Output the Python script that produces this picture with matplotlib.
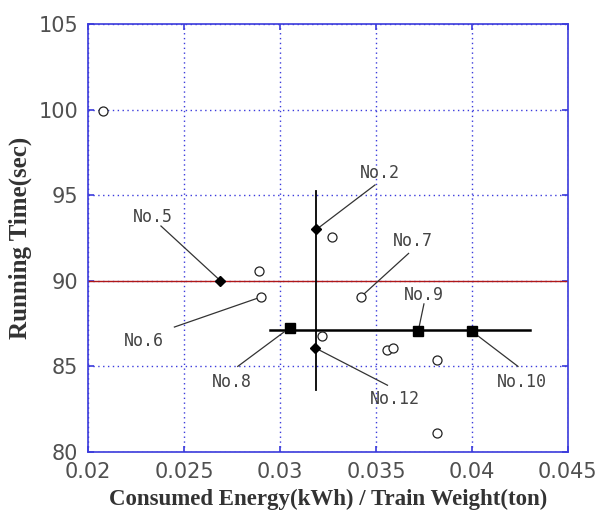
import matplotlib; matplotlib.use("Agg")
import matplotlib.pyplot as plt

# open circles (other runs)
circ_x = [0.0208, 0.0327, 0.0289, 0.0290, 0.0342, 0.0322, 0.0356, 0.0359, 0.0382, 0.0382]
circ_y = [99.9, 92.55, 90.55, 89.05, 89.05, 86.75, 85.95, 86.05, 85.35, 81.1]
# filled diamonds (No.2, No.5, No.12)
dia_x = [0.0319, 0.0269, 0.0318]
dia_y = [93.0, 90.0, 86.1]
# filled squares (No.8, No.9, No.10)
sq_x = [0.0305, 0.0372, 0.0400]
sq_y = [87.25, 87.05, 87.05]

ref_time = 90.0
vline_x, vline_y = 0.0319, (83.6, 95.25)
hline_y, hline_x = 87.12, (0.0295, 0.0430)

lab_txt = ["No.2", "No.5", "No.6", "No.7", "No.8", "No.9", "No.10", "No.12"]
lab_pt = [(dia_x[0], dia_y[0]), (dia_x[1], dia_y[1]), (circ_x[3], circ_y[3]), (circ_x[4], circ_y[4]),
          (sq_x[0], sq_y[0]), (sq_x[1], sq_y[1]), (sq_x[2], sq_y[2]), (dia_x[2], dia_y[2])]
lab_pos = [(0.0352, 96.3), (0.0234, 93.75), (0.0229, 86.5), (0.0369, 92.3),
           (0.0275, 84.1), (0.0375, 89.15), (0.0426, 84.1), (0.0360, 83.1)]
lead_start = [(0.03495, 95.6), (0.0238, 93.2), (0.0245, 87.3), (0.0367, 91.6),
              (0.0278, 85.0), (0.0375, 88.65), (0.0424, 85.0), (0.0356, 83.9)]

blue = "#3b3bdc"
fig = plt.figure(figsize=(6.1, 5.16), dpi=100)
ax = fig.add_axes([0.1443, 0.124, 0.7867, 0.8295])
ax.set_xlim(0.02, 0.045); ax.set_ylim(80, 105)
ax.set_xticks([0.02, 0.025, 0.03, 0.035, 0.04, 0.045])
ax.set_xticklabels(["0.02", "0.025", "0.03", "0.035", "0.04", "0.045"])
ax.set_yticks([80, 85, 90, 95, 100, 105])
ax.grid(True, color=blue, linestyle=(0, (1, 2.5)), linewidth=1.0)
for sp in ax.spines.values():
    sp.set_color(blue); sp.set_linewidth(1.2)
ax.tick_params(direction="in", length=4, width=1.2, color=blue, top=True, right=True,
               labelsize=15, labelcolor="#505050", pad=7)

ax.axhline(ref_time, color="#b01818", linewidth=1.0, zorder=2)
ax.plot([vline_x, vline_x], vline_y, color="black", linewidth=1.3, zorder=3)
ax.plot(hline_x, [hline_y, hline_y], color="black", linewidth=1.8, zorder=3)

for (tx, ty), (sx, sy), (px, py) in zip(lab_pos, lead_start, lab_pt):
    ax.plot([sx, px], [sy, py], color="#333", linewidth=0.9, zorder=3)
for t, (tx, ty) in zip(lab_txt, lab_pos):
    ax.text(tx, ty, t, ha="center", va="center", fontsize=12, color="#444",
            family="DejaVu Sans Mono")

ax.plot(circ_x, circ_y, "o", markersize=6.5, markerfacecolor="white",
        markeredgecolor="#222", markeredgewidth=0.9, zorder=4)
ax.plot(dia_x, dia_y, "D", markersize=5, color="black", zorder=5)
ax.plot(sq_x, sq_y, "s", markersize=6.5, color="black", zorder=5)

ax.set_xlabel("Consumed Energy(kWh) / Train Weight(ton)", fontsize=16.5, fontweight="bold",
              family="Liberation Serif", color="#333", labelpad=5)
ax.set_ylabel("Running Time(sec)", fontsize=18, fontweight="bold",
              family="Liberation Serif", color="#333", labelpad=5)
fig.savefig("out.png", dpi=100)
